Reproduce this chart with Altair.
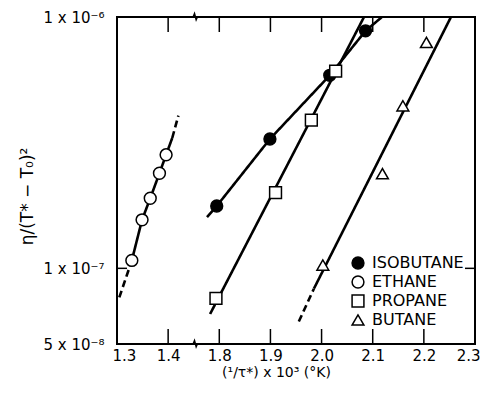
import math
import altair as alt
import pandas as pd

# ---------------- data ----------------
series = ["ISOBUTANE", "ETHANE", "PROPANE", "BUTANE"]

iso_x = [1.795, 1.899, 2.016, 2.086]
iso_y = [1.77e-7, 3.27e-7, 5.86e-7, 8.81e-7]

eth_x = [1.329, 1.349, 1.365, 1.383, 1.396]
eth_y = [1.075e-7, 1.56e-7, 1.90e-7, 2.39e-7, 2.83e-7]

pro_x = [1.7935, 1.910, 1.980, 2.0275]
pro_y = [7.59e-8, 2.0e-7, 3.89e-7, 6.09e-7]

but_x = [2.0025, 2.119, 2.159, 2.205]
but_y = [1.03e-7, 2.38e-7, 4.43e-7, 7.92e-7]

# drawn curves (segments: series, style, x list, y list)
iso_line_x = [1.776, 1.795, 1.899, 2.016, 2.086, 2.118]
iso_line_y = [1.60e-7, 1.77e-7, 3.27e-7, 5.86e-7, 8.81e-7, 1.0e-6]

eth_low_x = [1.3045, 1.329]
eth_low_y = [7.66e-8, 1.075e-7]
eth_mid_x = [1.329, 1.349, 1.365, 1.383, 1.396, 1.408]
eth_mid_y = [1.075e-7, 1.56e-7, 1.90e-7, 2.39e-7, 2.83e-7, 3.30e-7]
eth_top_x = [1.408, 1.420]
eth_top_y = [3.30e-7, 4.05e-7]

pro_line_x = [1.782, 2.083]
pro_line_y = [6.58e-8, 1.0e-6]

but_low_x = [1.9555, 1.985]
but_low_y = [6.14e-8, 8.3e-8]
but_line_x = [1.985, 2.253]
but_line_y = [8.3e-8, 1.0e-6]

# broken x axis: 1.3-1.4 | 1.8-2.3
tick_labels = ["1.3", "1.4", "1.8", "1.9", "2.0", "2.1", "2.2", "2.3"]
y_ticks = [5e-8, 1e-7, 1e-6]
inner_y_ticks = [1e-7]
break_u = 0.153


def to_u(x):
    return x - 1.3 if x < 1.6 else x - 1.6


# ---------------- layout constants ----------------
W, H = 358, 327
U_MAX = 0.7
X_TICK_PX, Y_TICK_PX = 15, 10
FONT = "DejaVu Sans"

# ---------------- tables ----------------
pts_rows = []
for name, xs, ys in [("ISOBUTANE", iso_x, iso_y), ("ETHANE", eth_x, eth_y),
                     ("PROPANE", pro_x, pro_y), ("BUTANE", but_x, but_y)]:
    for x, y in zip(xs, ys):
        pts_rows.append({"series": name, "x": x, "u": to_u(x), "y": y})
points_df = pd.DataFrame(pts_rows)

segments = [
    ("iso", "solid", iso_line_x, iso_line_y),
    ("eth_low", "dashed", eth_low_x, eth_low_y),
    ("eth_mid", "solid", eth_mid_x, eth_mid_y),
    ("eth_top", "dashed", eth_top_x, eth_top_y),
    ("pro", "solid", pro_line_x, pro_line_y),
    ("but_low", "dashed", but_low_x, but_low_y),
    ("but", "solid", but_line_x, but_line_y),
]
line_rows = []
for seg, style, xs, ys in segments:
    for i, (x, y) in enumerate(zip(xs, ys)):
        line_rows.append({"seg": seg, "style": style, "i": i, "u": to_u(x), "y": y})
lines_df = pd.DataFrame(line_rows)

u_ticks = [i / 10 for i in range(len(tick_labels))]
inner_u_ticks = u_ticks[1:-1]

# inward frame ticks (lengths converted from pixels into data units)
decades = math.log10(y_ticks[-1] / y_ticks[0])
fy = 10 ** (X_TICK_PX / H * decades)
du = Y_TICK_PX / W * U_MAX
tick_rows = []
for k, u in enumerate(inner_u_ticks):
    tick_rows += [{"t": f"b{k}", "i": 0, "u": u, "y": y_ticks[0]},
                  {"t": f"b{k}", "i": 1, "u": u, "y": y_ticks[0] * fy},
                  {"t": f"t{k}", "i": 0, "u": u, "y": y_ticks[-1]},
                  {"t": f"t{k}", "i": 1, "u": u, "y": y_ticks[-1] / fy}]
for k, y in enumerate(inner_y_ticks):
    tick_rows += [{"t": f"l{k}", "i": 0, "u": 0.0, "y": y},
                  {"t": f"l{k}", "i": 1, "u": du, "y": y},
                  {"t": f"r{k}", "i": 0, "u": U_MAX, "y": y},
                  {"t": f"r{k}", "i": 1, "u": U_MAX - du, "y": y}]
ticks_df = pd.DataFrame(tick_rows)
break_df = pd.DataFrame({"u": [break_u, break_u], "y": [y_ticks[0], y_ticks[-1]]})

# ---------------- chart ----------------
label_expr = "[" + ",".join(f"'{t}'" for t in tick_labels) + "][round(datum.value*10)]"
y_label_expr = ("datum.value > 5e-7 ? '1 x 10\u207b\u2076' : "
                "(datum.value > 7e-8 ? '1 x 10\u207b\u2077' : '5 x 10\u207b\u2078')")

xscale = alt.Scale(domain=[0, U_MAX], nice=False, zero=False)
yscale = alt.Scale(type="log", domain=[y_ticks[0], y_ticks[-1]], nice=False)

xaxis = alt.Axis(orient="bottom", values=u_ticks, labelExpr=label_expr,
                 ticks=False, domain=False, grid=False,
                 labelFlush=True, labelFlushOffset=5,
                 labelFontSize=15, labelPadding=4,
                 title="(\u00b9/\u03c4*) x 10\u00b3  (\u00b0K)",
                 titleFontSize=14, titleFontWeight="normal", titlePadding=2,
                 titleX=159)
yaxis = alt.Axis(orient="left", values=y_ticks, labelExpr=y_label_expr,
                 ticks=False, domain=False, grid=False, labelFlush=False,
                 labelFontSize=15, labelPadding=13,
                 title="\u03b7/(T* \u2212 T\u2080)\u00b2", titleFontSize=17,
                 titleFontWeight="normal", titlePadding=7, titleY=179)


def X():
    return alt.X("u:Q", scale=xscale, axis=xaxis)


def Y():
    return alt.Y("y:Q", scale=yscale, axis=yaxis)


lines = alt.Chart(lines_df).mark_line(color="black", strokeWidth=2.6).encode(
    x=X(), y=Y(),
    detail="seg:N",
    order=alt.Order("i:Q"),
    strokeDash=alt.StrokeDash("style:N",
                              scale=alt.Scale(domain=["solid", "dashed"], range=[[1, 0], [7, 4]]),
                              legend=None),
)

ticks = alt.Chart(ticks_df).mark_line(color="black", strokeWidth=1.5).encode(
    x=X(), y=Y(), detail="t:N", order=alt.Order("i:Q"))

brk = alt.Chart(break_df).mark_point(
    shape="M-1,0 L-0.35,0 L-0.12,-0.55 L0.15,0.45 L0.35,0 L1,0", size=150,
    filled=False, stroke="black", strokeWidth=1.5, opacity=1).encode(x=X(), y=Y())

leg = alt.Legend(title=None, orient="none", legendX=233, legendY=238,
                 labelFontSize=16, labelFont=FONT, labelColor="black",
                 symbolSize=140, symbolStrokeWidth=1.5,
                 rowPadding=1, labelOffset=6, padding=0)

pts = alt.Chart(points_df).mark_point(filled=True, size=140, strokeWidth=1.5,
                                      opacity=1).encode(
    x=X(), y=Y(),
    shape=alt.Shape("series:N", scale=alt.Scale(domain=series,
                    range=["circle", "circle", "square", "triangle-up"]), legend=leg),
    fill=alt.Fill("series:N", scale=alt.Scale(domain=series,
                  range=["black", "white", "white", "white"]), legend=leg),
    stroke=alt.Stroke("series:N", scale=alt.Scale(domain=series,
                      range=["black", "black", "black", "black"]), legend=leg),
)

chart = alt.layer(lines, ticks, brk, pts).properties(
    width=W, height=H,
    autosize=alt.AutoSizeParams(type="none"),
    padding={"left": 109, "top": 9, "right": 7, "bottom": 36},
    background="white",
).configure_view(
    stroke="black", strokeWidth=2
).configure_axis(
    labelFont=FONT, titleFont=FONT, labelColor="black", titleColor="black"
)

chart.save("out.html", embed_options={"renderer": "svg", "actions": False})
